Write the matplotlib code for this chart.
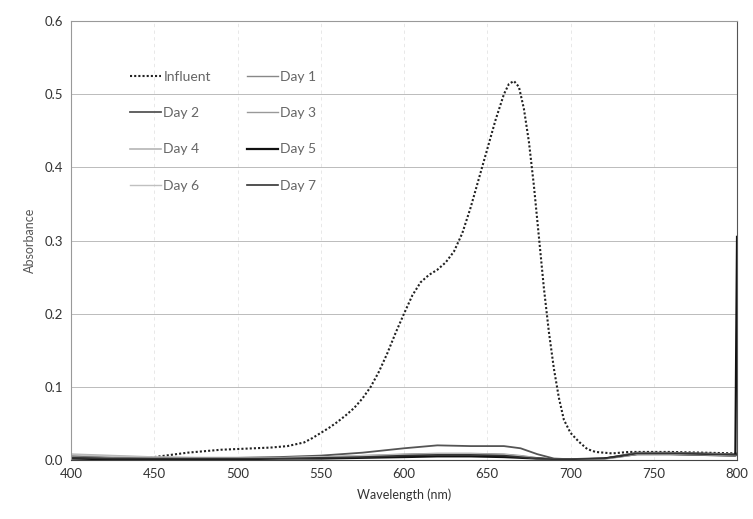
import matplotlib
matplotlib.use('Agg')
import matplotlib.pyplot as plt
import numpy as np

plt.rcParams['font.family'] = ['Lato', 'DejaVu Sans']

# influent spectrum
wl_inf = [400, 420, 440, 450, 460, 470, 480, 490, 500, 510, 520, 530, 540, 545,
          550, 555, 560, 565, 570, 575, 580, 585, 590, 595, 600, 605, 610, 615,
          620, 625, 630, 635, 640, 645, 650, 655, 660, 663, 666, 669, 672, 675,
          678, 681, 684, 687, 690, 693, 696, 700, 705, 710, 715, 720, 725, 730,
          735, 740, 750, 760, 780, 800]
influent = [0.003, 0.003, 0.003, 0.004, 0.007, 0.010, 0.012, 0.014, 0.015, 0.016,
            0.017, 0.019, 0.024, 0.030, 0.037, 0.044, 0.052, 0.061, 0.071, 0.084,
            0.100, 0.121, 0.146, 0.174, 0.200, 0.225, 0.243, 0.253, 0.260, 0.270,
            0.285, 0.310, 0.345, 0.385, 0.425, 0.465, 0.500, 0.514, 0.518, 0.510,
            0.480, 0.435, 0.375, 0.305, 0.235, 0.175, 0.125, 0.085, 0.055, 0.037,
            0.025, 0.015, 0.011, 0.010, 0.009, 0.010, 0.011, 0.011, 0.011, 0.011,
            0.010, 0.009]

# treated samples
wl_day = [400, 425, 450, 475, 500, 525, 550, 575, 600, 620, 640, 660, 670, 680,
          690, 700, 720, 730, 740, 760, 780, 799, 800]
day1 = [0.005, 0.004, 0.003, 0.003, 0.003, 0.003, 0.004, 0.006, 0.008, 0.009,
        0.009, 0.008, 0.006, 0.003, 0.001, 0.001, 0.002, 0.006, 0.010, 0.010,
        0.009, 0.008, 0.008]
day2 = [0.006, 0.004, 0.003, 0.003, 0.003, 0.004, 0.006, 0.010, 0.016, 0.020,
        0.019, 0.019, 0.016, 0.008, 0.002, 0.001, 0.002, 0.006, 0.010, 0.010,
        0.009, 0.008, 0.008]
day3 = [0.004, 0.003, 0.002, 0.002, 0.002, 0.003, 0.004, 0.005, 0.007, 0.008,
        0.008, 0.007, 0.005, 0.003, 0.001, 0.001, 0.002, 0.005, 0.009, 0.009,
        0.008, 0.007, 0.007]
day4 = [0.008, 0.006, 0.004, 0.003, 0.003, 0.003, 0.004, 0.005, 0.007, 0.008,
        0.008, 0.007, 0.005, 0.002, 0.001, 0.001, 0.002, 0.005, 0.009, 0.009,
        0.008, 0.007, 0.007]
day5 = [0.002, 0.001, 0.001, 0.001, 0.001, 0.002, 0.002, 0.003, 0.004, 0.005,
        0.005, 0.004, 0.003, 0.002, 0.001, 0.001, 0.002, 0.005, 0.008, 0.008,
        0.007, 0.006, 0.305]
day6 = [0.007, 0.005, 0.004, 0.003, 0.003, 0.003, 0.004, 0.006, 0.007, 0.008,
        0.008, 0.007, 0.005, 0.002, 0.001, 0.001, 0.001, 0.004, 0.008, 0.008,
        0.007, 0.006, 0.006]
day7 = [0.003, 0.002, 0.002, 0.002, 0.002, 0.002, 0.003, 0.004, 0.006, 0.007,
        0.007, 0.006, 0.004, 0.002, 0.001, 0.001, 0.002, 0.005, 0.009, 0.009,
        0.008, 0.007, 0.007]

fig = plt.figure(figsize=(7.53, 5.19), dpi=100)
ax = fig.add_axes([0.0943, 0.1137, 0.8845, 0.8458])

h = {}
h['Influent'], = ax.plot(wl_inf, influent, color='#222222', linestyle=(0, (1, 1)), lw=1.5, label='Influent')
h['Day 1'], = ax.plot(wl_day, day1, color='#888888', lw=1.0, label='Day 1')
h['Day 2'], = ax.plot(wl_day, day2, color='#555555', lw=1.3, label='Day 2')
h['Day 3'], = ax.plot(wl_day, day3, color='#999999', lw=1.0, label='Day 3')
h['Day 4'], = ax.plot(wl_day, day4, color='#b5b5b5', lw=1.2, label='Day 4')
h['Day 5'], = ax.plot(wl_day, day5, color='#111111', lw=1.6, label='Day 5')
h['Day 6'], = ax.plot(wl_day, day6, color='#c0c0c0', lw=1.0, label='Day 6')
h['Day 7'], = ax.plot(wl_day, day7, color='#333333', lw=1.2, label='Day 7')

ax.set_xlim(400, 800)
ax.set_ylim(0, 0.6)
ax.set_xticks(np.arange(400, 801, 50))
ax.set_yticks(np.arange(0, 0.61, 0.1))
ax.set_yticklabels([f'{v:.1f}' for v in np.arange(0, 0.61, 0.1)])
ax.yaxis.grid(True, color='#bbbbbb', lw=0.7)
ax.xaxis.grid(True, color='#e4e4e4', lw=0.6, linestyle=(0, (4, 4)))
ax.set_axisbelow(True)
ax.tick_params(length=0, labelsize=9.5, colors='#333333', pad=6)

for s in ['left', 'top']:
    ax.spines[s].set_color('#999999')
ax.spines['right'].set_color('#555555')
ax.spines['bottom'].set_color('#444444')

ax.set_xlabel('Wavelength (nm)', fontsize=9, color='#333333', labelpad=6)
ax.set_ylabel('Absorbance', fontsize=9, color='#555555', labelpad=6)

# row-wise legend order (matplotlib fills columns first)
order = ['Influent', 'Day 2', 'Day 4', 'Day 6', 'Day 1', 'Day 3', 'Day 5', 'Day 7']
ax.legend([h[k] for k in order], order, ncol=2, loc='upper left',
          bbox_to_anchor=(0.07, 0.915), frameon=False,
          fontsize=10, labelspacing=1.75, handlelength=2.2, handletextpad=0.2,
          columnspacing=2.6, labelcolor='#666666')

fig.savefig('out.png', dpi=100)
